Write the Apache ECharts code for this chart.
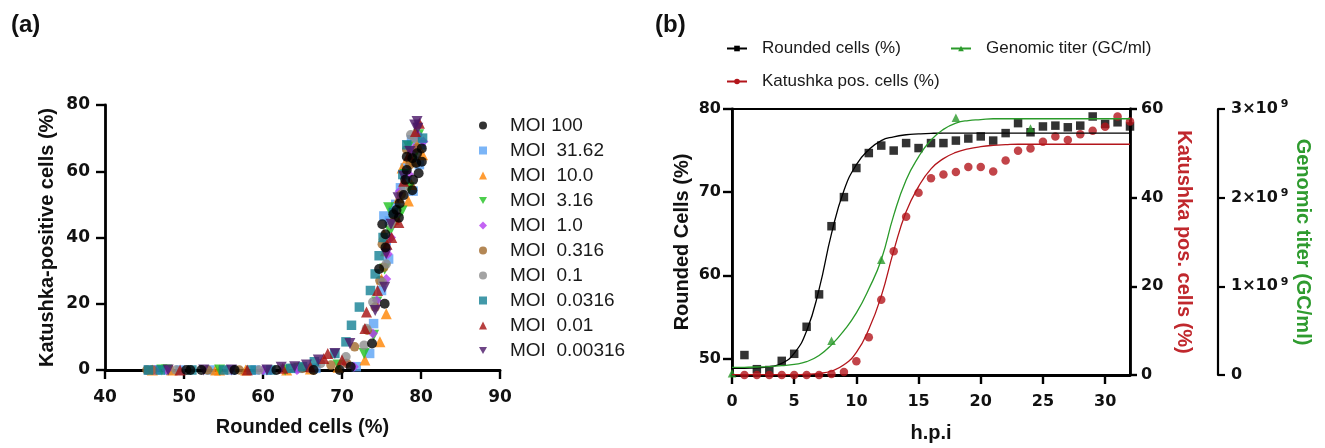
<!DOCTYPE html>
<html>
  <head>
    <meta charset="utf-8" />
    <script src="https://cdn.jsdelivr.net/npm/echarts@6.0.0/dist/echarts.min.js"></script>
  </head>
  <body style="margin:0;background:#fff;">
    <div id="main" style="width: 1325px;height:448px;"></div>
    <script type="text/javascript">
      // ---- panel (a): Katushka-positive vs rounded cells, one list per MOI ----
      var moiNames = ['MOI 100', 'MOI  31.62', 'MOI  10.0', 'MOI  3.16', 'MOI  1.0',
        'MOI  0.316', 'MOI  0.1', 'MOI  0.0316', 'MOI  0.01', 'MOI  0.00316'];
      var moi100 = [[50.3,0],[50.8,0],[52.2,0],[56.4,0],[61.7,0],[66.4,0],[69.7,0],[71.1,1],[73.8,8],[75.4,20],
        [74.7,30.5],[75.5,37],[75.5,41],[75.1,44],[76.5,47],[76.9,48.3],[77.3,50.3],[77.8,52.8],[78.9,54.3],
        [78.0,57.4],[79.0,57.4],[79.7,59.4],[78.2,60.4],[80.1,62.9],[78.9,63.9],[78.2,64.4],[79.5,65.4],[80.1,66.9],[79.4,62.5],[77.2,46]];
      var moi3162 = [[45.5,0],[46.5,0],[48.0,0],[49.5,0],[53.3,0],[56.0,0],[59.0,0],[60.5,0],[64.5,0.5],[66.7,0.5],
        [71.8,1],[73.5,5],[74.0,14],[75.0,24],[75.9,33.5],[75.6,39],[75.3,46.5],[76.0,45],[76.8,50],[77.4,55],
        [78.2,57],[79.0,54],[78.0,61],[79.3,63],[79.8,62],[80.0,68],[78.8,69.5],[79.5,70.5],[76.5,48]];
      var moi10 = [[46.0,0],[48.5,0],[54.0,0],[54.5,0],[57.8,0],[63.0,0],[66.0,0.3],[69.5,0.8],[72.9,3],[74.8,8.5],
        [75.6,17],[75.0,27.5],[75.5,36],[75.3,41],[76.6,45.5],[78.4,51],[77.2,52],[78.8,56],[77.6,61],[78.3,64],[79.0,63],[80.2,65],[79.5,68]];
      var moi316 = [[47.2,0],[47.8,0],[54.5,0],[62.8,0],[64.5,0.5],[69.5,1.5],[72.8,5],[74.0,10.5],[74.4,20.5],[75.4,30.5],
        [76.1,42],[75.9,49],[77.0,46],[77.6,48],[78.5,55],[78.0,59],[78.4,67.5],[79.2,65],[79.7,71]];
      var moi1 = [[46.3,0],[47.8,0],[60.0,0],[61.0,0],[64.3,0],[64.5,0.5],[70.5,2],[71.5,1],[73.9,11],[74.3,19.5],
        [74.4,21],[75.6,27.5],[75.8,35],[76.2,40],[76.8,47],[77.3,54],[78.5,59],[78.9,66],[79.6,71],[80.3,69],[79.1,67]];
      var moi0316 = [[45.3,0],[46.0,0],[53.0,0],[57.0,0],[65.0,0.5],[68.6,1.5],[70.6,2],[71.6,7],[73.2,12],[74.2,19],
        [74.8,27],[75.3,31],[75.1,38],[76.6,45],[77.5,53],[78.2,66.5],[78.6,62],[79.5,67]];
      var moi01 = [[49.0,0],[55.5,0],[59.5,0],[63.5,0.5],[66.0,0.5],[67.3,2],[70.5,4],[72.8,7.5],[73.1,12.5],[73.9,20.5],
        [75.1,26.5],[75.6,32],[76.3,44],[77.8,55],[78.7,71],[79.2,70],[79.6,74]];
      var moi00316 = [[45.5,0],[47.0,0],[51.0,0],[55.0,0],[58.5,0],[61.0,0],[63.5,0.5],[65.0,1],[66.5,2.5],[69.1,5],
        [70.5,8.5],[71.2,13.5],[72.2,19],[73.6,24],[74.2,29],[74.7,34.5],[75.2,40],[76.5,47.5],[77.7,59],[78.2,68],[80.2,70]];
      var moi001 = [[49.5,0],[58.0,0],[62.5,0.5],[66.0,1],[67.7,3.5],[68.2,5],[70.0,3],[72.9,12.5],[73.1,17.5],[74.5,24],
        [75.7,38],[76.3,40],[77.2,44.5],[77.8,57],[78.5,65],[79.3,72],[79.8,74.5]];
      var moi000316 = [[48.0,0],[52.5,0],[56.0,0],[60.5,0],[62.3,0.8],[64.0,1],[65.5,1.5],[67.0,3],[69.1,5],[71.0,8],
        [74.2,18],[75.4,25],[75.6,35],[76.2,44],[77.1,52],[77.8,58.5],[78.6,66],[79.2,74],[79.5,75],[79.6,73]];
      var moiData = [moi100, moi3162, moi10, moi316, moi1, moi0316, moi01, moi00316, moi001, moi000316];

      // ---- panel (b): time course ----
      var hpi = [1,2,3,4,5,6,7,8,9,10,11,12,13,14,15,16,17,18,19,20,21,22,23,24,25,26,27,28,29,30,31,32];
      var rounded = [50.4,48.7,48.6,49.7,50.55,53.8,57.7,65.9,69.4,72.9,74.7,75.6,75.0,75.9,75.3,75.9,
        75.9,76.2,76.45,76.7,76.2,77.1,78.3,77.2,77.9,78.0,77.8,78.0,79.1,78.2,78.4,77.9];
      var katushka = [0,0,0,0,0,0,0,0.2,0.7,3.1,8.5,17.0,27.9,35.7,41.1,44.4,
        45.2,45.8,46.9,46.9,45.9,48.4,50.6,51.1,52.6,53.8,53.0,54.3,55.1,56.0,58.3,57.2];
      var titerHpi = [0, 8, 12, 18, 24];
      var titer = [0.02e9, 0.385e9, 1.30e9, 2.90e9, 2.78e9];
      // fitted curves, t = 0..32
      var fitHpi = [0,1,2,3,4,5,6,7,8,9,10,11,12,13,14,15,16,17,18,19,20,21,22,23,24,25,26,27,28,29,30,31,32];
      var roundedFit = [48.8,48.8,48.85,49.0,49.4,50.6,53.3,58.3,65.0,70.2,73.3,75.1,76.2,76.65,76.9,77.0,77.07,
        77.1,77.1,77.1,77.1,77.1,77.1,77.1,77.1,77.1,77.1,77.1,77.1,77.1,77.1,77.1,77.1];
      var katushkaFit = [0.1,0.1,0.1,0.1,0.1,0.1,0.15,0.35,0.9,2.3,5.1,10.3,17.8,28.0,36.8,42.5,46.5,
        48.8,50.2,51.0,51.5,51.8,51.95,52.05,52.05,52.05,52.05,52.05,52.05,52.05,52.05,52.05,52.05];
      var titerFit = [0.085e9,0.087e9,0.09e9,0.095e9,0.105e9,0.12e9,0.15e9,0.22e9,0.34e9,0.50e9,0.70e9,0.97e9,1.30e9,
        1.80e9,2.20e9,2.46e9,2.65e9,2.77e9,2.84e9,2.87e9,2.88e9,2.89e9,2.89e9,2.89e9,2.89e9,2.89e9,2.89e9,2.89e9,
        2.89e9,2.89e9,2.89e9,2.89e9,2.89e9];
      var hpiTicks = [0, 5, 10, 15, 20, 25, 30];
      var roundedTicks = [50, 60, 70, 80];

      function pairs(xs, ys) { return xs.map(function (x, i) { return [x, ys[i]]; }); }

      var moiColors = ['#000000', '#5aa2f5', '#ff8300', '#1fc21f', '#b43cf0', '#a0692a', '#8c8c8c', '#137f94', '#a50f0f', '#4a1768'];
      var moiSymbols = ['circle', 'rect', 'triangle', 'triangle', 'diamond', 'circle', 'circle', 'rect', 'triangle', 'triangle'];
      var moiRotate = [0, 0, 0, 180, 0, 0, 0, 0, 0, 180];
      var moiSize = [10, 9.5, 11, 11, 10, 9.5, 9.5, 9.5, 11, 11];
      var downTriangle = 'path://M0,0 L10,0 L5,9 Z';

      var TICK = 'DejaVu Sans';
      var SANS = 'Liberation Sans';
      var red = '#b3151b', green = '#2a9a2a';

      var series = [];
      // draw black (MOI 100) last so it sits on top
      for (var k = 1; k <= moiData.length; k++) {
        var i = k % moiData.length;
        series.push({
          name: moiNames[i], type: 'scatter', xAxisIndex: 0, yAxisIndex: 0,
          data: moiData[i], symbol: moiSymbols[i], symbolRotate: moiRotate[i], symbolSize: moiSize[i],
          itemStyle: { color: moiColors[i] }, clip: false, z: i === 0 ? 5 : 2
        });
      }
      series.push(
        { name: 'Rounded cells (%)', type: 'line', xAxisIndex: 1, yAxisIndex: 1, data: pairs(fitHpi, roundedFit),
          smooth: true, showSymbol: false, symbol: 'rect', color: '#000', lineStyle: { width: 1.3 } },
        { name: 'Katushka pos. cells (%)', type: 'line', xAxisIndex: 1, yAxisIndex: 2, data: pairs(fitHpi, katushkaFit),
          smooth: true, showSymbol: false, symbol: 'circle', color: red, lineStyle: { width: 1.3 } },
        { name: 'Genomic titer (GC/ml)', type: 'line', xAxisIndex: 1, yAxisIndex: 3, data: pairs(fitHpi, titerFit),
          smooth: true, showSymbol: false, symbol: 'triangle', color: green, lineStyle: { width: 1.3 } },
        { name: 'Rounded cells (%)', type: 'scatter', xAxisIndex: 1, yAxisIndex: 1, data: pairs(hpi, rounded),
          symbol: 'rect', symbolSize: 8.5, color: '#000', clip: false },
        { name: 'Katushka pos. cells (%)', type: 'scatter', xAxisIndex: 1, yAxisIndex: 2, data: pairs(hpi, katushka),
          symbol: 'circle', symbolSize: 8.5, color: red, clip: false },
        { name: 'Genomic titer (GC/ml)', type: 'scatter', xAxisIndex: 1, yAxisIndex: 3, data: pairs(titerHpi, titer),
          symbol: 'triangle', symbolSize: 8.5, color: green, clip: false }
      );

      function axisBase(extra) {
        var a = {
          type: 'value', splitLine: { show: false },
          axisLine: { show: true, onZero: false, lineStyle: { color: '#000', width: 2.8 } },
          axisTick: { show: true, inside: false, length: 9, lineStyle: { color: '#000', width: 2.4 } },
          axisLabel: { fontFamily: TICK, fontWeight: 'bold', fontSize: 16, color: '#111' },
          nameTextStyle: { fontFamily: SANS, fontWeight: 'bold', fontSize: 20, color: '#111' },
          nameLocation: 'middle'
        };
        for (var key in extra) a[key] = extra[key];
        return a;
      }

      var legendA = moiNames.map(function (n, i) {
        return moiRotate[i] === 180 ? { name: n, icon: downTriangle } : { name: n };
      });

      var myChart = echarts.init(document.getElementById('main'));
      var option = {
        animation: false,
        backgroundColor: '#fff',
        title: [
          { text: '(a)', left: 6, top: 8, textStyle: { fontFamily: SANS, fontWeight: 'bold', fontSize: 24, color: '#111' } },
          { text: '(b)', left: 650, top: 8, textStyle: { fontFamily: SANS, fontWeight: 'bold', fontSize: 24, color: '#111' } }
        ],
        legend: [
          { data: legendA, orient: 'vertical', left: 474, top: 111, itemWidth: 8, itemHeight: 8, itemGap: 6,
            selectedMode: false,
            textStyle: { fontFamily: SANS, fontSize: 19, lineHeight: 17, color: '#1a1a1a', padding: [0, 0, 0, 18] } },
          { data: ['Rounded cells (%)', 'Katushka pos. cells (%)'], orient: 'vertical', left: 721, top: 35,
            itemWidth: 20, itemHeight: 7, itemGap: 16, selectedMode: false,
            textStyle: { fontFamily: SANS, fontSize: 17, lineHeight: 17, color: '#1a1a1a', padding: [0, 0, 0, 10] } },
          { data: ['Genomic titer (GC/ml)'], orient: 'vertical', left: 945, top: 35,
            itemWidth: 20, itemHeight: 7, selectedMode: false,
            textStyle: { fontFamily: SANS, fontSize: 17, lineHeight: 17, color: '#1a1a1a', padding: [0, 0, 0, 10] } }
        ],
        grid: [
          { left: 105, top: 105, width: 395, height: 265 },
          { left: 732, top: 109, width: 398, height: 267, show: true, borderColor: '#000', borderWidth: 2 }
        ],
        xAxis: [
          axisBase({ gridIndex: 0, min: 40, max: 90, interval: 10, name: 'Rounded cells (%)', nameGap: 47,
            axisLabel: { fontFamily: TICK, fontWeight: 'bold', fontSize: 17, color: '#111', margin: 19 } }),
          axisBase({ gridIndex: 1, min: 0, max: 32, name: 'h.p.i', nameGap: 48,
            axisTick: { show: true, length: 9, customValues: hpiTicks, lineStyle: { color: '#000', width: 2.4 } },
            axisLabel: { fontFamily: TICK, fontWeight: 'bold', fontSize: 16, color: '#111', margin: 19, customValues: hpiTicks } })
        ],
        yAxis: [
          axisBase({ gridIndex: 0, min: 0, max: 80, interval: 20, name: 'Katushka-positive cells (%)', nameGap: 48,
            axisLabel: { fontFamily: TICK, fontWeight: 'bold', fontSize: 17, color: '#111', margin: 15 } }),
          axisBase({ gridIndex: 1, min: 48, max: 80, name: 'Rounded Cells (%)', nameGap: 40,
            axisTick: { show: true, length: 9, customValues: roundedTicks, lineStyle: { color: '#000', width: 2.4 } },
            axisLabel: { fontFamily: TICK, fontWeight: 'bold', fontSize: 16, color: '#111', margin: 11, customValues: roundedTicks } }),
          axisBase({ gridIndex: 1, position: 'right', min: 0, max: 60, interval: 20, name: 'Katushka pos. cells (%)',
            nameGap: 44, nameRotate: -90,
            axisTick: { show: true, length: 7, lineStyle: { color: '#000', width: 2.4 } },
            axisLabel: { fontFamily: TICK, fontWeight: 'bold', fontSize: 16, color: '#111', margin: 11 },
            nameTextStyle: { fontFamily: SANS, fontWeight: 'bold', fontSize: 20, color: '#c0282d' } }),
          axisBase({ gridIndex: 1, position: 'right', offset: 88, min: 0, max: 3e9, interval: 1e9,
            name: 'Genomic titer (GC/ml)', nameGap: 75, nameRotate: -90,
            axisLine: { show: true, onZero: false, lineStyle: { color: '#000', width: 2.2 } },
            axisTick: { show: true, length: 7, lineStyle: { color: '#000', width: 2.2 } },
            axisLabel: {
              margin: 13, color: '#111',
              formatter: function (v) { return v === 0 ? '{m|0}' : '{m|' + (v / 1e9) + '×10}{e|9}'; },
              rich: {
                m: { fontFamily: TICK, fontWeight: 'bold', fontSize: 16, lineHeight: 20, color: '#111' },
                e: { fontFamily: TICK, fontWeight: 'bold', fontSize: 11, lineHeight: 12, verticalAlign: 'top', padding: [0, 0, 0, 3], color: '#111' }
              }
            },
            nameTextStyle: { fontFamily: SANS, fontWeight: 'bold', fontSize: 20, color: '#2f9b2f' } })
        ],
        series: series
      };
      myChart.setOption(option);
    </script>
  </body>
</html>
